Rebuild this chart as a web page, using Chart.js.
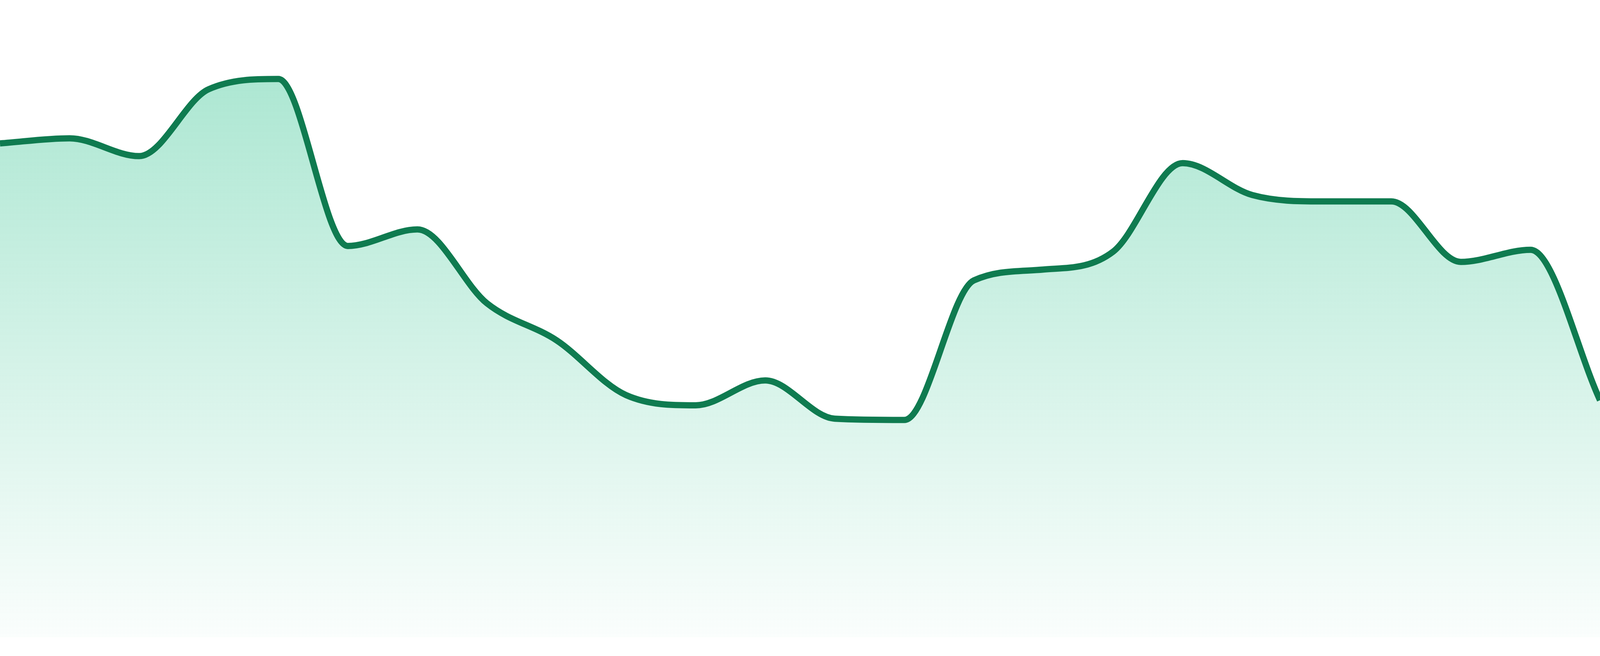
<!DOCTYPE html>
<html>
<head>
<meta charset="utf-8">
<script src="https://cdn.jsdelivr.net/npm/chart.js@4"></script>
<style>
  html, body { margin: 0; padding: 0; background: #ffffff; overflow: hidden; }
  #wrap { position: relative; width: 100vw; height: 100vh; }
</style>
</head>
<body>
<div id="wrap"><canvas id="chart"></canvas></div>
<script>
// 24 evenly spaced samples, no visible axis text
const labels = ["1", "2", "3", "4", "5", "6", "7", "8", "9", "10", "11", "12",
                "13", "14", "15", "16", "17", "18", "19", "20", "21", "22", "23", "24"];
const values = [77.5, 78.3, 75.5, 86.0, 87.6, 61.4, 64.0, 52.4, 46.6, 38.0, 36.4, 40.3,
                34.3, 34.1, 56.0, 57.7, 60.5, 74.4, 69.4, 68.4, 68.4, 58.9, 60.8, 37.2];
const yMin = 0;
const yMax = 100;

// area fill fades out toward the bottom
function areaGradient(context) {
    const area = context.chart.chartArea;
    if (!area) return "rgba(16, 185, 125, 0.2)";
    const g = context.chart.ctx.createLinearGradient(0, area.top, 0, area.bottom);
    g.addColorStop(0, "rgba(16, 185, 125, 0.39)");
    g.addColorStop(1, "rgba(16, 185, 125, 0.02)");
    return g;
}

new Chart(document.getElementById("chart"), {
    type: "line",
    data: {
        labels: labels,
        datasets: [{
            data: values,
            borderColor: "rgb(15, 123, 80)",
            borderWidth: 16,
            backgroundColor: areaGradient,
            fill: "start",
            pointRadius: 0,
            cubicInterpolationMode: "monotone"
        }]
    },
    options: {
        responsive: true,
        maintainAspectRatio: false,
        animation: false,
        layout: { padding: { top: 0, left: 0, right: 0, bottom: 48 } },
        plugins: { legend: { display: false }, tooltip: { enabled: false } },
        scales: {
            x: { display: false },
            y: { display: false, min: yMin, max: yMax }
        }
    }
});
</script>
</body>
</html>
